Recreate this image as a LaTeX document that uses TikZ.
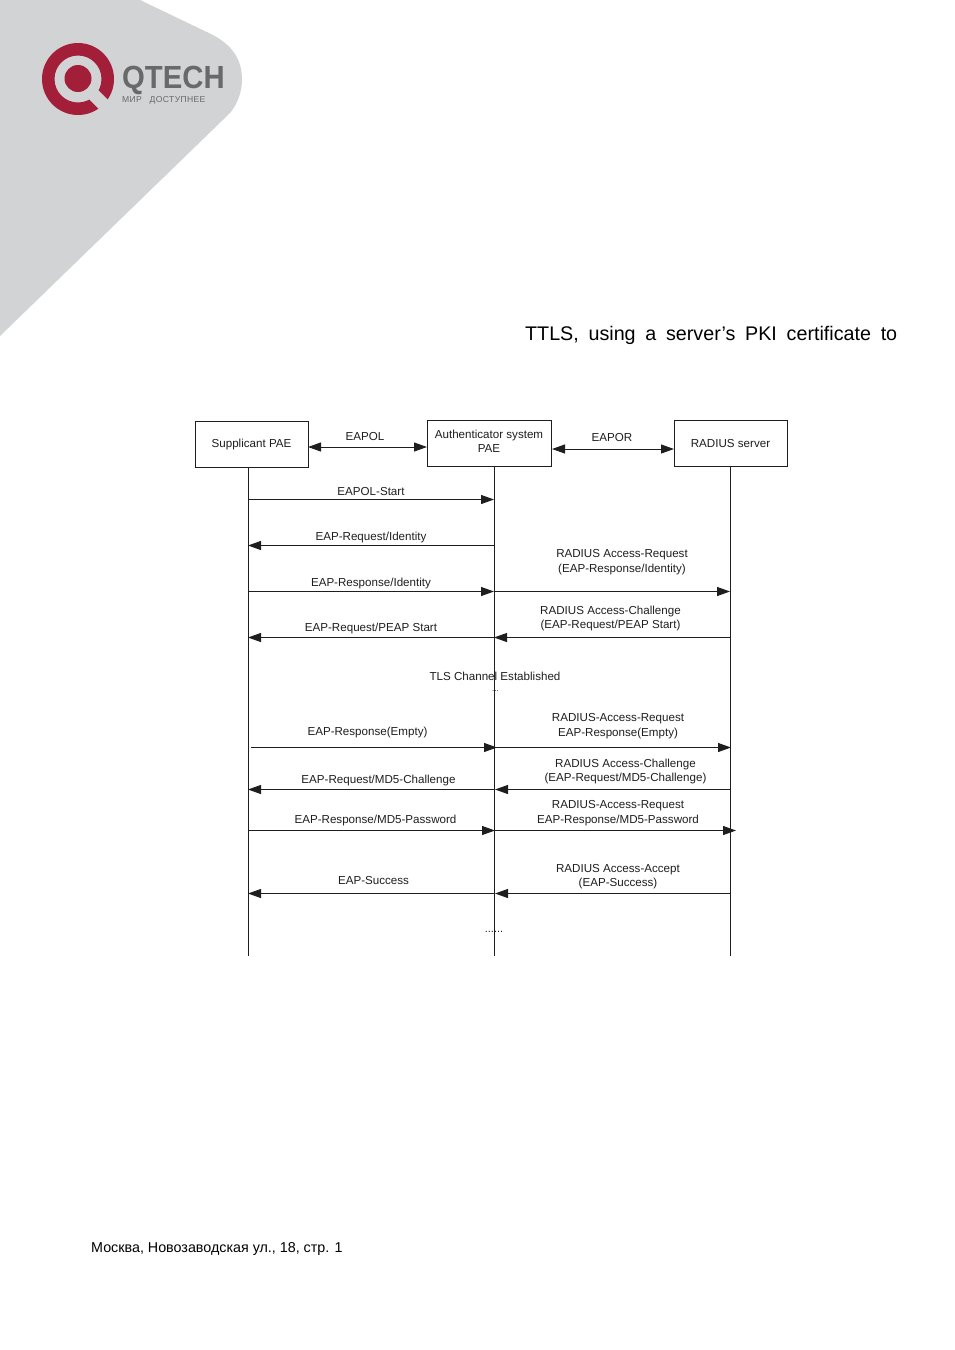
\documentclass[tikz,border=0pt]{standalone}
\usepackage{fontspec}
\setmainfont{Liberation Sans}
\usepackage{xcolor}
\usetikzlibrary{arrows.meta}
\definecolor{Corner}{RGB}{209, 211, 212}
\definecolor{LogoRed}{RGB}{163, 30, 56}
\definecolor{LogoGray}{RGB}{105, 105, 105}
\definecolor{Ink}{RGB}{30, 30, 30}

\begin{document}
\begin{tikzpicture}[
    x=1pt, y=-1pt,
    party/.style={rectangle, draw=Ink, fill=white, line width=1pt, align=center, inner sep=0pt,
                  font=\fontsize{11.6}{14}\selectfont, text=Ink},
    lbl/.style={align=center, inner sep=0pt, font=\fontsize{11.6}{14.3}\selectfont, text=Ink},
    lifeline/.style={line width=1pt, Ink},
    arr/.style={-{Triangle[length=13pt, width=9pt]}, line width=1pt, Ink},
    both/.style={{Triangle[length=13pt, width=9pt]}-{Triangle[length=13pt, width=9pt]}, line width=1pt, Ink},
]
\useasboundingbox (0,0) rectangle (954,1350);

% corner and logo
\fill[Corner] (0,0) -- (140,0) -- (213,35) .. controls (235,47) and (242,62) .. (242,80)
    .. controls (242,92) and (237,105) .. (230,113) -- (0,336) -- cycle;
\fill[LogoRed, even odd rule] (78,79) circle (36) (78,79) circle (23.5);
\draw[Corner, line width=13pt] (91,92) -- (113,114);
\fill[LogoRed] (78,78.5) circle (13.5);
\node[inner sep=0pt, anchor=west, xscale=0.915, font=\fontsize{32}{32}\bfseries\selectfont, text=LogoGray] (brand) at (122,80.5) {QTECH};
\node[inner sep=0pt, anchor=west, font=\fontsize{8.6}{9}\selectfont\addfontfeatures{LetterSpace=4}, text=LogoGray] (motto) at (122,100) {МИР\hspace{5pt} ДОСТУПНЕЕ};

% page text
\node[inner sep=0pt, anchor=base west, font=\fontsize{19.7}{24}\selectfont, text=black] (para) at (525,340)
    {\makebox[372pt][s]{TTLS, using a server’s PKI certificate to}};
\node[inner sep=0pt, anchor=base west, font=\fontsize{14.3}{17}\selectfont, text=black] (foot) at (91,1252)
    {Москва, Новозаводская ул., 18, стр. 1};

% parties
\node[party, minimum width=113pt, minimum height=46pt] (supplicant) at (251.5,444) {Supplicant PAE};
\node[party, minimum width=124pt, minimum height=46pt] (authenticator) at (489,443) {Authenticator system\\PAE\rule[-3pt]{0pt}{3pt}};
\node[party, minimum width=113pt, minimum height=46pt] (radius) at (730.5,443) {RADIUS server};

\coordinate (supplicantEnd) at (248,956);
\coordinate (authenticatorEnd) at (494,956);
\coordinate (radiusEnd) at (730,956);
\coordinate (supplicantTop) at (248,467);
\coordinate (authenticatorTop) at (494,466);
\coordinate (radiusTop) at (730,466);
\draw[lifeline] (supplicantTop) -- (supplicantEnd);
\draw[lifeline] (authenticatorTop) -- (authenticatorEnd);
\draw[lifeline] (radiusTop) -- (radiusEnd);

% links between the boxes
\coordinate (eapolA) at (308,447);
\coordinate (eapolB) at (427,447);
\coordinate (eaporA) at (552,449);
\coordinate (eaporB) at (674,449);
\draw[both] (eapolA) -- (eapolB);
\draw[both] (eaporA) -- (eaporB);
\node[lbl] (eapol) at (365,436.5) {EAPOL};
\node[lbl] (eapor) at (612,437.5) {EAPOR};

% message ends
\coordinate (s1) at (248,499.5);   \coordinate (a1) at (494,499.5);
\coordinate (s2) at (248,545.5);   \coordinate (a2) at (494,545.5);
\coordinate (s3) at (248,591.5);   \coordinate (a3) at (494,591.5);   \coordinate (r3) at (730,591.5);
\coordinate (s4) at (248,637.5);   \coordinate (a4) at (494,637.5);   \coordinate (r4) at (730,637.5);
\coordinate (s5) at (251,747.5);   \coordinate (a5) at (497,747.5);   \coordinate (b5) at (494,747.5);   \coordinate (r5) at (731,747.5);
\coordinate (s6) at (248,789.5);   \coordinate (a6) at (495,789.5);   \coordinate (r6) at (730,789.5);
\coordinate (s7) at (248,830.5);   \coordinate (a7) at (495,830.5);   \coordinate (r7) at (736,830.5);
\coordinate (s8) at (248,893.5);   \coordinate (a8) at (495,893.5);   \coordinate (r8) at (730,893.5);

\draw[arr] (s1) -- (a1);
\draw[arr] (a2) -- (s2);
\draw[arr] (s3) -- (a3);
\draw[arr] (a3) -- (r3);
\draw[arr] (a4) -- (s4);
\draw[arr] (r4) -- (a4);
\draw[arr] (s5) -- (a5);
\draw[arr] (b5) -- (r5);
\draw[arr] (a6) -- (s6);
\draw[arr] (r6) -- (a6);
\draw[arr] (s7) -- (a7);
\draw[arr] (a7) -- (r7);
\draw[arr] (a8) -- (s8);
\draw[arr] (r8) -- (a8);

% message labels
\node[lbl] (start) at (371,491) {EAPOL-Start};
\node[lbl] (reqId) at (371,537) {EAP-Request/Identity};
\node[lbl] (radReqId) at (622,562) {RADIUS Access-Request\\(EAP-Response/Identity)};
\node[lbl] (respId) at (371,583) {EAP-Response/Identity};
\node[lbl] (radChalPeap) at (610.5,618.5) {RADIUS Access-Challenge\\(EAP-Request/PEAP Start)};
\node[lbl] (reqPeap) at (371,628.5) {EAP-Request/PEAP Start};
\node[lbl] (tls) at (495,676.5) {TLS Channel Established};
\node[lbl, font=\fontsize{8}{8}\selectfont] (gapA) at (495.5,691) {...};
\node[lbl] (respEmpty) at (367.5,732.5) {EAP-Response(Empty)};
\node[lbl] (radReqEmpty) at (618,726) {RADIUS-Access-Request\\EAP-Response(Empty)};
\node[lbl] (reqMd5) at (378.5,780.5) {EAP-Request/MD5-Challenge};
\node[lbl] (radChalMd5) at (625.5,771.5) {RADIUS Access-Challenge\\(EAP-Request/MD5-Challenge)};
\node[lbl] (respMd5) at (375.5,820) {EAP-Response/MD5-Password};
\node[lbl] (radReqMd5) at (618,813) {RADIUS-Access-Request\\EAP-Response/MD5-Password};
\node[lbl] (success) at (373.5,880.5) {EAP-Success};
\node[lbl] (radAccept) at (618,876.5) {RADIUS Access-Accept\\(EAP-Success)};
\node[lbl, font=\fontsize{11}{11}\selectfont] (gapB) at (494,932) {......};
\end{tikzpicture}
\end{document}
